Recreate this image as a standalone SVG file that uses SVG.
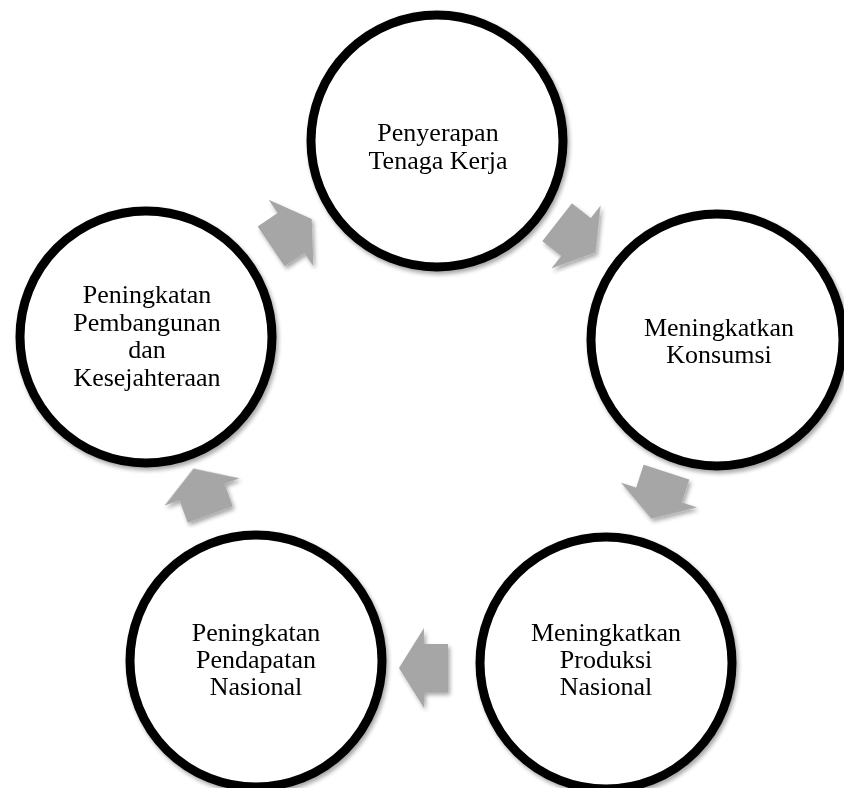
<svg xmlns="http://www.w3.org/2000/svg" width="844" height="788" viewBox="0 0 844 788">
<defs>
<filter id="sh" x="-20%" y="-20%" width="140%" height="140%">
<feGaussianBlur in="SourceAlpha" stdDeviation="2"/>
<feOffset dx="2" dy="3" result="b"/>
<feComponentTransfer><feFuncA type="linear" slope="0.35"/></feComponentTransfer>
<feMerge><feMergeNode/><feMergeNode in="SourceGraphic"/></feMerge>
</filter>
<path id="arr" d="M -24,-24 L 0,-24 L 0,-40 L 25,0 L 0,40 L 0,24 L -24,24 Z"/>
</defs>
<style>
.node circle{fill:#ffffff;stroke:#000000;stroke-width:9}
.node text{font-family:"Liberation Serif","Times New Roman",serif;font-size:26px;fill:#000000;text-anchor:middle}
.arrows use{fill:#a6a6a6}
</style>
<rect width="844" height="788" fill="#ffffff"/>
<g id="connectors" class="arrows" filter="url(#sh)">
<use href="#arr" transform="translate(291,233) rotate(-34)"/>
<use href="#arr" transform="translate(576,237) rotate(38)"/>
<use href="#arr" transform="translate(659,495) rotate(108)"/>
<use href="#arr" transform="translate(424,668) rotate(180)"/>
<use href="#arr" transform="translate(202,492) rotate(-110)"/>
</g>
<g id="node-top" class="node" filter="url(#sh)">
<circle cx="437" cy="141" r="126"/>
<text x="438" y="141">Penyerapan</text>
<text x="438" y="169">Tenaga Kerja</text>
</g>
<g id="node-right" class="node" filter="url(#sh)">
<circle cx="717" cy="340" r="126"/>
<text x="719" y="336">Meningkatkan</text>
<text x="719" y="363">Konsumsi</text>
</g>
<g id="node-bottom-right" class="node" filter="url(#sh)">
<circle cx="606" cy="663" r="126"/>
<text x="606" y="641">Meningkatkan</text>
<text x="606" y="668">Produksi</text>
<text x="606" y="695">Nasional</text>
</g>
<g id="node-bottom-left" class="node" filter="url(#sh)">
<circle cx="256" cy="661" r="126"/>
<text x="256" y="641">Peningkatan</text>
<text x="256" y="668">Pendapatan</text>
<text x="256" y="695">Nasional</text>
</g>
<g id="node-left" class="node" filter="url(#sh)">
<circle cx="146" cy="337" r="126"/>
<text x="147" y="303">Peningkatan</text>
<text x="147" y="331">Pembangunan</text>
<text x="147" y="358">dan</text>
<text x="147" y="386">Kesejahteraan</text>
</g>
</svg>
